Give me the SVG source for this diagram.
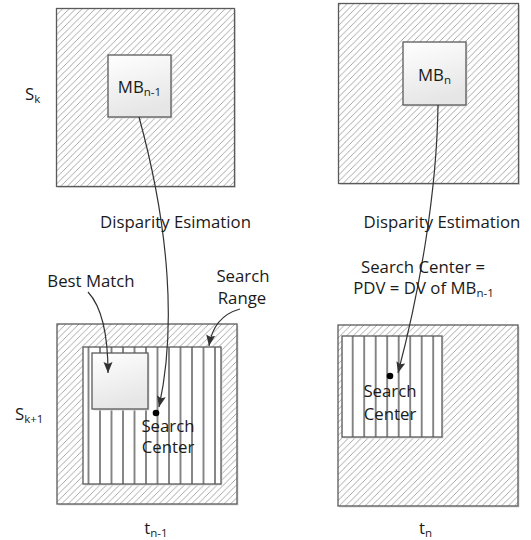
<svg xmlns="http://www.w3.org/2000/svg" width="531" height="540" viewBox="0 0 531 540">
  <defs>
    <style>
      text { font-family: "Open Sans", "Liberation Sans", sans-serif; font-size: 16.8px; fill: #1a1a1a; }
      .mid { text-anchor: middle; }
      .sub { font-size: 11.5px; }
      .frame { stroke: #5a5a5a; stroke-width: 1.3; }
      .shadow { fill: #dcdcdc; }
      .conn { fill: none; stroke: #333333; stroke-width: 1.2; }
    </style>
    <!-- diagonal hatching for the frame areas -->
    <pattern id="hatch" patternUnits="userSpaceOnUse" width="6.5" height="6.5">
      <rect width="6.5" height="6.5" fill="#ffffff"/>
      <path d="M0,6.5 L6.5,0 M-1,1 L1,-1 M5.5,7.5 L7.5,5.5" stroke="#8a8a8a" stroke-width="0.75"/>
    </pattern>
    <!-- vertical lines for the search windows -->
    <pattern id="vlinesL" patternUnits="userSpaceOnUse" x="82.75" y="0" width="11.5" height="10">
      <rect width="11.5" height="10" fill="#ffffff"/>
      <line x1="5.75" y1="0" x2="5.75" y2="10" stroke="#555555" stroke-width="1.4"/>
    </pattern>
    <pattern id="vlinesR" patternUnits="userSpaceOnUse" x="346.95" y="0" width="11.5" height="10">
      <rect width="11.5" height="10" fill="#ffffff"/>
      <line x1="5.75" y1="0" x2="5.75" y2="10" stroke="#555555" stroke-width="1.4"/>
    </pattern>
    <linearGradient id="blockFill" x1="0" y1="0" x2="0.3" y2="1">
      <stop offset="0" stop-color="#ffffff"/>
      <stop offset="1" stop-color="#e6e6e6"/>
    </linearGradient>
    <marker id="arrow" markerUnits="userSpaceOnUse" markerWidth="13" markerHeight="10" refX="11" refY="4.5" orient="auto">
      <path d="M0,0 L11,4.5 L0,9 L2,4.5 z" fill="#333333"/>
    </marker>
  </defs>

  <!-- frame S_k at t_(n-1) -->
  <g id="frame-sk-tn1">
    <rect class="shadow" x="58" y="10" width="178" height="178"/>
    <rect class="frame" x="56.5" y="8.5" width="178" height="178" fill="url(#hatch)"/>
  </g>
  <!-- frame S_k at t_n -->
  <g id="frame-sk-tn">
    <rect class="shadow" x="340" y="5" width="180" height="180"/>
    <rect class="frame" x="338.5" y="3.5" width="180" height="180" fill="url(#hatch)"/>
  </g>
  <!-- frame S_(k+1) at t_(n-1) -->
  <g id="frame-sk1-tn1">
    <rect class="shadow" x="58.5" y="325.5" width="180" height="180"/>
    <rect class="frame" x="57" y="324" width="180" height="180" fill="url(#hatch)"/>
  </g>
  <!-- frame S_(k+1) at t_n -->
  <g id="frame-sk1-tn">
    <rect class="shadow" x="339.5" y="326.5" width="180" height="181"/>
    <rect class="frame" x="338" y="325" width="180" height="181" fill="url(#hatch)"/>
  </g>

  <!-- search range in S_(k+1), t_(n-1) -->
  <g id="search-range-left">
    <rect class="shadow" x="84.5" y="348.5" width="138" height="137"/>
    <rect class="frame" x="83" y="347" width="138" height="137" fill="url(#vlinesL)"/>
  </g>
  <!-- search window in S_(k+1), t_n -->
  <g id="search-range-right">
    <rect class="shadow" x="343.5" y="337.5" width="100" height="101"/>
    <rect class="frame" x="342" y="336" width="100" height="101" fill="url(#vlinesR)"/>
  </g>

  <!-- best match block -->
  <g id="best-match-block">
    <rect class="shadow" x="93.5" y="354.5" width="56" height="56"/>
    <rect class="frame" x="92" y="353" width="56" height="56" fill="url(#blockFill)"/>
  </g>

  <!-- macroblock MB_(n-1) -->
  <g id="mb-n1">
    <rect class="shadow" x="109.5" y="56.5" width="63" height="62"/>
    <rect class="frame" x="108" y="55" width="63" height="62" fill="url(#blockFill)"/>
    <text class="mid" x="139.5" y="93" font-size="18">MB<tspan class="sub" dy="2.5">n-1</tspan></text>
  </g>
  <!-- macroblock MB_n -->
  <g id="mb-n">
    <rect class="shadow" x="404.5" y="43.5" width="63" height="63"/>
    <rect class="frame" x="403" y="42" width="63" height="63" fill="url(#blockFill)"/>
    <text class="mid" x="434.5" y="81" font-size="18">MB<tspan class="sub" dy="2.5">n</tspan></text>
  </g>

  <!-- search centres -->
  <g id="search-center-left">
    <circle cx="156" cy="413" r="3.3" fill="#000000"/>
    <text class="mid" x="168" y="432">Search</text>
    <text class="mid" x="168" y="453">Center</text>
  </g>
  <g id="search-center-right">
    <circle cx="390" cy="376" r="3.3" fill="#000000"/>
    <text class="mid" x="390" y="397">Search</text>
    <text class="mid" x="390" y="420">Center</text>
  </g>

  <!-- connectors -->
  <g id="connectors">
    <path class="conn" d="M139,117 C170,230 176,330 159,407" marker-end="url(#arrow)"/>
    <path class="conn" d="M438,105 C437,190 420,290 398,373" marker-end="url(#arrow)"/>
    <path class="conn" d="M88,292 C101,306 108,330 108,373" marker-end="url(#arrow)"/>
    <path class="conn" d="M240,309 C222,314 212,326 209,346" marker-end="url(#arrow)"/>
  </g>

  <!-- labels -->
  <g id="labels">
    <text x="25" y="100">S<tspan class="sub" dy="2.5">k</tspan></text>
    <text x="15" y="420">S<tspan class="sub" dy="2.5">k+1</tspan></text>
    <text class="mid" x="175.5" y="227.5">Disparity Esimation</text>
    <text class="mid" x="442" y="227.5">Disparity Estimation</text>
    <text class="mid" x="423" y="273">Search Center =</text>
    <text class="mid" x="423.5" y="294">PDV = DV of MB<tspan class="sub" dy="2.5">n-1</tspan></text>
    <text class="mid" x="91" y="287">Best Match</text>
    <text class="mid" x="243" y="282">Search</text>
    <text class="mid" x="242" y="304">Range</text>
    <text class="mid" x="156" y="534">t<tspan class="sub" dy="2.5">n-1</tspan></text>
    <text class="mid" x="425.5" y="534">t<tspan class="sub" dy="2.5">n</tspan></text>
  </g>
</svg>
